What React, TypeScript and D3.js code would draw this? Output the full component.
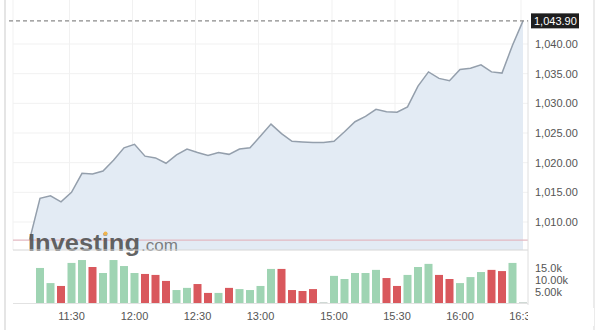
import React from "react";
import * as d3 from "d3";

// ---- data ----
const prevClose = 1006.95;
const prices = [
  1014.0, 1014.4, 1013.4, 1015.0, 1018.2, 1018.1, 1018.6, 1020.4, 1022.5, 1023.1,
  1021.1, 1020.8, 1019.9, 1021.3, 1022.3, 1021.7, 1021.2, 1021.7, 1021.4, 1022.3,
  1022.5, 1024.5, 1026.5, 1024.9, 1023.6, 1023.5, 1023.4, 1023.4, 1023.6, 1025.2,
  1026.9, 1027.8, 1029.0, 1028.6, 1028.5, 1029.4, 1032.9, 1035.3, 1034.2, 1033.8,
  1035.7, 1035.9, 1036.5, 1035.3, 1035.1, 1039.8, 1043.9,
];
const volumes = [
  14.6, 8.3, 7.1, 16.7, 17.9, 15.0, 12.5, 17.9, 15.4, 12.5,
  12.1, 11.7, 9.2, 5.4, 6.3, 7.9, 4.2, 4.2, 6.3, 5.8,
  5.4, 7.1, 14.2, 14.2, 5.4, 5.0, 5.8, 0.4, 11.3, 10.0,
  12.5, 12.5, 13.8, 10.4, 7.1, 11.7, 15.0, 16.3, 11.7, 10.0,
  8.3, 10.8, 12.9, 13.8, 13.3, 16.7, 0.4,
];
const volumeDir = [
  "u","u","d","u","u","d","u","u","u","u",
  "d","d","d","u","u","d","d","u","d","u",
  "u","u","u","d","d","d","d","n","u","u",
  "u","u","u","d","d","u","u","u","d","d",
  "u","u","u","d","d","u","n",
];
const timeLabels = ["11:30", "12:00", "12:30", "13:00", "15:00", "15:30", "16:00", "16:30"];
const timeIdx = [3, 9, 15, 21, 28, 34, 40, 46];
const priceTicks = [1010, 1015, 1020, 1025, 1030, 1035, 1040];
const volTicks = [5000, 10000, 15000];
const volTickLabels = ["5.00k", "10.00k", "15.0k"];
const lastPrice = 1043.9;

export default function App() {
  const W = 600, H = 330;
  const plotL = 13, plotR = 528;
  const priceBottom = 250;
  const x = d3.scaleLinear().domain([-1, 46]).range([29.5, 523]);
  const y = d3.scaleLinear().domain([1010, 1040]).range([222, 44]);
  const yv = d3.scaleLinear().domain([0, 15000]).range([303, 267]);

  const pts: [number, number][] = [[-1, prevClose], ...prices.map((p, i) => [i, p] as [number, number])];
  const line = d3.line<[number, number]>().x(d => x(d[0])).y(d => y(d[1]));
  const area = d3.area<[number, number]>().x(d => x(d[0])).y0(priceBottom).y1(d => y(d[1]));

  const fmt = d3.format(",.2f");
  const font = "'Liberation Sans', Arial, sans-serif";
  const colorOf = (d: string) => (d === "u" ? "#9fd4b3" : d === "d" ? "#d9585d" : "#cfd8d4");

  return (
    <svg width={W} height={H} style={{ position: "absolute", left: 0, top: 0, background: "#fff" }} fontFamily={font}>
      {/* frame */}
      <line x1={5} x2={5} y1={0} y2={H} stroke="#dcdcdc" strokeWidth={1.5} />
      <line x1={594} x2={594} y1={0} y2={H} stroke="#e4e4e4" strokeWidth={1.5} />

      {/* grid */}
      {priceTicks.map(t => (
        <line key={"g" + t} x1={plotL} x2={plotR} y1={y(t)} y2={y(t)} stroke="#f1f1f1" />
      ))}
      {timeIdx.map((t, i) => (
        <line key={"v" + i} x1={x(t) - 2} x2={x(t) - 2} y1={0} y2={priceBottom} stroke="#f1f1f1" />
      ))}
      <line x1={plotL} x2={plotL} y1={0} y2={priceBottom} stroke="#f1f1f1" />

      {/* area + line */}
      <path d={area(pts) || ""} fill="#e3ebf4" />
      <path d={line(pts) || ""} fill="none" stroke="#949fac" strokeWidth={1.5} />

      {/* prev close line */}
      <line x1={plotL} x2={plotR} y1={y(prevClose)} y2={y(prevClose)} stroke="#e3b9c2" strokeWidth={1.2} />

      {/* watermark */}
      <text x={28} y={251} fontSize={23} fontWeight="bold" fill="#4f4f4f" fillOpacity={0.88} fontFamily={font} textLength={112} lengthAdjust="spacingAndGlyphs">Investing</text>
      <text x={141} y={251} fontSize={17} fill="#6a6a6a" fillOpacity={0.85} fontFamily={font} textLength={37} lengthAdjust="spacingAndGlyphs">.com</text>
      <circle cx={105.5} cy={233.5} r={2} fill="#f0b44c" />

      {/* pane separators */}
      <line x1={plotL} x2={plotR} y1={priceBottom} y2={priceBottom} stroke="#d6d6d6" />
      <line x1={plotR} x2={plotR} y1={20} y2={305} stroke="#dedede" />

      {/* last price dashed line */}
      <line x1={9} x2={plotR} y1={y(lastPrice)} y2={y(lastPrice)} stroke="#8a8a8a" strokeWidth={1.3} strokeDasharray="4 3" />

      {/* price axis labels */}
      {priceTicks.map(t => (
        <text key={"l" + t} x={535} y={y(t)} dy="0.35em" fontSize={11} fill="#555">{fmt(t)}</text>
      ))}
      <rect x={531} y={y(lastPrice) - 7.5} width={48} height={15} fill="#1e1e1e" />
      <text x={534} y={y(lastPrice)} dy="0.35em" fontSize={11} fill="#fff">{fmt(lastPrice)}</text>

      {/* volume bars */}
      {volumes.map((v, i) => (
        <rect key={"b" + i} x={x(i) - 4} y={yv(v * 1000)} width={8} height={Math.max(0.8, 303 - yv(v * 1000))} fill={colorOf(volumeDir[i])} />
      ))}
      <line x1={plotL} x2={plotR} y1={303.5} y2={303.5} stroke="#e2e2e2" />

      {/* volume labels */}
      {volTicks.map((t, i) => (
        <text key={"vt" + t} x={535} y={yv(t) + 1} dy="0.35em" fontSize={11} fill="#555">{volTickLabels[i]}</text>
      ))}

      {/* time labels */}
      {timeLabels.map((l, i) => (
        <text key={"t" + i} x={x(timeIdx[i])} y={316} dy="0.35em" textAnchor="middle" fontSize={11} fill="#555">{l}</text>
      ))}
      {/* clip of last time label by frame */}
      <rect x={528} y={308} width={66} height={18} fill="#fff" />
    </svg>
  );
}
